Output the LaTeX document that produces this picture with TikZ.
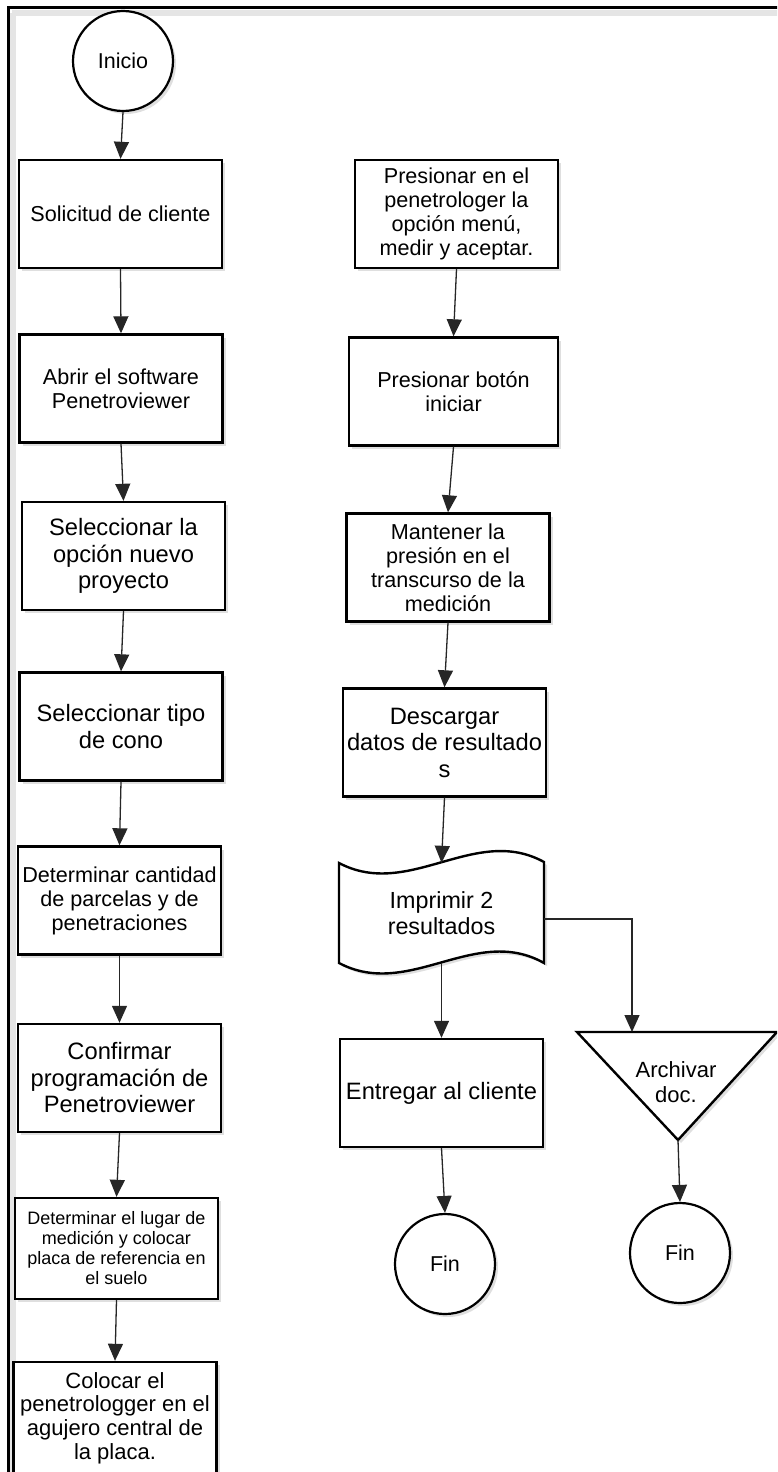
\documentclass[tikz,border=0pt]{standalone}
\usepackage{fontspec}
\setmainfont{Liberation Sans}
\usetikzlibrary{positioning,arrows.meta,shadows}

\tikzset{
  sombra/.style={drop shadow={shadow xshift=3pt,
                              shadow yshift=-3pt,
                              opacity=0.25}},
  paso/.style={draw=black,
               fill=white,
               line width=2.4pt,
               align=center,
               inner sep=1pt,
               minimum width=203pt,
               minimum height=108pt,
               sombra,
               font=\fontsize{21.6}{24}\selectfont},
  grande/.style={font=\fontsize{23.7}{26.5}\selectfont},
  chica/.style={font=\fontsize{18}{20}\selectfont},
  circulo/.style={circle,
                  draw=black,
                  fill=white,
                  line width=2.2pt,
                  minimum size=100pt,
                  inner sep=0pt,
                  sombra,
                  font=\fontsize{21.5}{24}\selectfont},
  flecha/.style={draw=black!85,
                 line width=1.3pt,
                 -{Triangle[length=17pt,width=15pt]}}
}

\begin{document}
\begin{tikzpicture}[x=1pt,y=-1pt]
    \useasboundingbox (0,0) rectangle (777,1472);
    \clip (0,0) rectangle (777,1472);
%    \draw[help lines] (0,0) grid (777,1472);
      % marco
      \draw[black!10, line width=6pt] (12,13) -- (800,13);
      \draw[black!10, line width=6pt] (13,13) -- (13,1500);
      \draw[line width=3pt] (8,1500) -- (8,8) -- (800,8);

      % columna izquierda
      \node[circulo] (inicio) at (123,61) {Inicio};
      \node[paso] (solicitud) at (120.5,214) {Solicitud de cliente};
      \node[paso] (abrir) at (121,388.5) {Abrir el software\\Penetroviewer};
      \node[paso, grande] (proyecto) at (123.5,556) {Seleccionar la\\opción nuevo\\proyecto};
      \node[paso, grande] (cono) at (121,726.5) {Seleccionar tipo\\de cono};
      \node[paso] (cantidad) at (119.5,900.5) {Determinar cantidad\\de parcelas y de\\penetraciones};
      \node[paso, grande] (confirmar) at (119.5,1078) {Confirmar\\programación de\\Penetroviewer};
      \node[paso, chica, minimum height=101pt] (lugar) at (116.5,1248.5) {Determinar el lugar de\\medición y colocar\\placa de referencia en\\el suelo};
      \node[paso, font=\fontsize{22}{23.8}\selectfont, minimum height=112pt] (colocar) at (115,1418) {Colocar el\\penetrologger en el\\agujero central de\\la placa.};

      % columna derecha
      \node[paso] (menu) at (456.5,214) {Presionar en el\\penetrologer la\\opción menú,\\medir y aceptar.};
      \node[paso, minimum width=209pt] (iniciar) at (453.5,391.5) {Presionar botón\\iniciar};
      \node[paso] (presion) at (448,567.5) {Mantener la\\presión en el\\transcurso de la\\medición};
      \node[paso, grande] (descargar) at (444.5,742.5) {Descargar\\datos de resultado\\s};

      % documento con borde ondulado
      \draw[fill=white,
            line width=2.4pt,
            sombra] (339,863) .. controls (409,900) and (475,824) .. (544,862)
                    -- (544,963) .. controls (475,924) and (409,1000) .. (339,963) -- cycle;
      \node[align=center,
            minimum width=205pt,
            minimum height=100pt,
            font=\fontsize{23.3}{26}\selectfont] (imprimir) at (441.5,913) {Imprimir 2\\resultados};

      \node[paso, grande] (entregar) at (441.5,1093) {Entregar al cliente};
      \node[circulo] (fin1) at (445,1264) {Fin};

      \draw[fill=white,
            line width=2.4pt,
            sombra] (577,1032) -- (777,1032) -- (678,1140) -- cycle;
      \coordinate (archivo) at (632,1032);
      \coordinate (apice) at (678,1140);
      \node[align=center, font=\fontsize{22}{25}\selectfont] (archivar) at (676,1082) {Archivar\\doc.};
      \node[circulo] (fin2) at (680,1253) {Fin};

      % conectores
      \draw[flecha] (inicio.south) -- (solicitud.north);
      \draw[flecha] (solicitud.south) -- (abrir.north);
      \draw[flecha] (abrir.south) -- (proyecto.north);
      \draw[flecha] (proyecto.south) -- (cono.north);
      \draw[flecha] (cono.south) -- (cantidad.north);
      \draw[flecha] (cantidad.south) -- (confirmar.north);
      \draw[flecha] (confirmar.south) -- (lugar.north);
      \draw[flecha] (lugar.south) -- (colocar.north);
      \draw[flecha] (menu.south) -- (iniciar.north);
      \draw[flecha] (iniciar.south) -- (presion.north);
      \draw[flecha] (presion.south) -- (descargar.north);
      \draw[flecha] (descargar.south) -- (imprimir.north);
      \draw[flecha] (imprimir.south) -- (entregar.north);
      \draw[flecha] ([yshift=-6pt]imprimir.east) -| (archivo);
      \draw[flecha] (entregar.south) -- (fin1.north);
      \draw[flecha] (apice) -- (fin2.north);
    \end{tikzpicture}
\end{document}
